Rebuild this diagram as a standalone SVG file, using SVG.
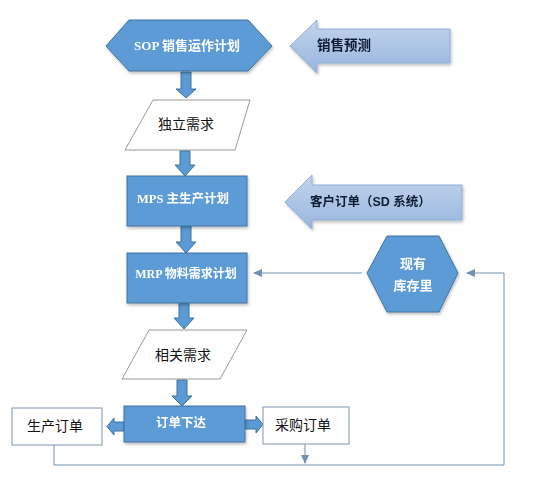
<svg xmlns="http://www.w3.org/2000/svg" width="534" height="486" viewBox="0 0 534 486">
  <defs>
    <linearGradient id="lb" x1="0" y1="0" x2="0" y2="1">
      <stop offset="0" stop-color="#c3d4ec"/>
      <stop offset="1" stop-color="#97b6df"/>
    </linearGradient>
    <filter id="sh" x="-20%" y="-20%" width="140%" height="150%">
      <feDropShadow dx="1" dy="2" stdDeviation="1.5" flood-color="#000" flood-opacity="0.25"/>
    </filter>
    <marker id="ah" markerWidth="9" markerHeight="8" refX="8" refY="4" orient="auto" markerUnits="userSpaceOnUse">
      <path d="M0,0 L9,4 L0,8 Z" fill="#7390b0"/>
    </marker>
    <style>
      .blue{fill:#5b9bd5;stroke:#41719c;stroke-width:1}
      .light{fill:url(#lb);stroke:#8fadd6;stroke-width:1}
      .para{fill:#fff;stroke:#7f7f7f;stroke-width:0.8}
      .box{fill:#fff;stroke:#8094ad;stroke-width:1}
      .conn{fill:none;stroke:#7390b0;stroke-width:1}
      .wt{fill:#fff;font-family:"Liberation Serif","Noto Sans CJK SC",serif;font-weight:bold;text-anchor:middle;dominant-baseline:central}
      .dk{fill:#0e1a30;font-family:"Liberation Sans","Noto Sans CJK SC",sans-serif;font-weight:bold;dominant-baseline:central}
      .bk{fill:#111;font-family:"Liberation Sans","Noto Sans CJK SC",sans-serif;text-anchor:middle;dominant-baseline:central;font-size:14px}
    </style>
  </defs>

  <g id="connectors">
    <polyline class="conn" points="54,445 54,465 504,465 504,273 467,273" marker-end="url(#ah)"/>
    <line class="conn" x1="305" y1="444" x2="305" y2="463" marker-end="url(#ah)"/>
    <line class="conn" x1="362" y1="273" x2="254" y2="273" marker-end="url(#ah)"/>
    <polygon class="blue" points="181,72 191,72 191,89 196,89 186,98 176,89 181,89"/>
    <polygon class="blue" points="180,151 190,151 190,165 195,165 185,176 175,165 180,165"/>
    <polygon class="blue" points="181,226 191,226 191,242 196,242 186,253 176,242 181,242"/>
    <polygon class="blue" points="179,303 189,303 189,318 194,318 184,329 174,318 179,318"/>
    <polygon class="blue" points="177,380 187,380 187,396 192,396 182,406 172,396 177,396"/>
    <polygon class="blue" points="124,422 114,422 114,418 107,426.5 114,435 114,431 124,431"/>
    <polygon class="blue" points="245,420 256,420 256,416 263,424.5 256,433 256,429 245,429"/>
  </g>

  <g id="sop" filter="url(#sh)">
    <polygon class="blue" points="106,46 129,20 248,20 272,46 248,71 129,71"/>
    <text class="wt" x="187" y="45" font-size="13">SOP 销售运作计划</text>
  </g>

  <g id="forecast" filter="url(#sh)">
    <polygon class="light" points="290,46 317,20 317,29 450,29 450,63 317,63 317,73"/>
    <text class="dk" x="317" y="45" font-size="13.5">销售预测</text>
  </g>

  <g id="independent">
    <polygon class="para" points="153,100 250,100 235,150 125,150"/>
    <text class="bk" x="186" y="124">独立需求</text>
  </g>

  <g id="mps" filter="url(#sh)">
    <rect class="blue" x="127" y="176" width="120" height="50"/>
    <text class="wt" x="183" y="199" font-size="12.5">MPS 主生产计划</text>
  </g>

  <g id="customer" filter="url(#sh)">
    <polygon class="light" points="285,202 312,175 312,185 462,185 462,220 312,220 312,229"/>
    <text class="dk" x="310" y="202" font-size="12.5">客户订单（SD 系统）</text>
  </g>

  <g id="mrp" filter="url(#sh)">
    <rect class="blue" x="127" y="253" width="120" height="50"/>
    <text class="wt" x="186" y="274" font-size="12">MRP 物料需求计划</text>
  </g>

  <g id="inventory" filter="url(#sh)">
    <polygon class="blue" points="367,273 387,236 439,236 458,273 439,312 387,312"/>
    <text class="wt" x="413" y="263" font-size="13">现有</text>
    <text class="wt" x="413" y="285" font-size="13">库存里</text>
  </g>

  <g id="dependent">
    <polygon class="para" points="149,330 247,330 220,379 122,379"/>
    <text class="bk" x="183" y="355">相关需求</text>
  </g>

  <g id="release" filter="url(#sh)">
    <rect class="blue" x="124" y="406" width="121" height="36"/>
    <text class="wt" x="181" y="423" font-size="12.5">订单下达</text>
  </g>

  <g id="production">
    <rect class="box" x="12" y="408" width="90" height="37"/>
    <text class="bk" x="55" y="426">生产订单</text>
  </g>

  <g id="purchase">
    <rect class="box" x="263" y="407" width="86" height="37"/>
    <text class="bk" x="303" y="425">采购订单</text>
  </g>
</svg>
